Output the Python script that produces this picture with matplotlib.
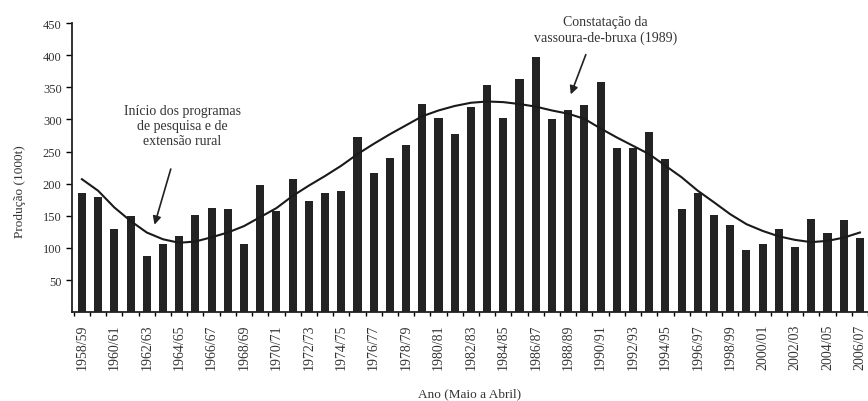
import numpy as np
import matplotlib
matplotlib.use("Agg")
import matplotlib.pyplot as plt

safras = ["1958/59", "1959/60", "1960/61", "1961/62", "1962/63", "1963/64", "1964/65",
          "1965/66", "1966/67", "1967/68", "1968/69", "1969/70", "1970/71", "1971/72",
          "1972/73", "1973/74", "1974/75", "1975/76", "1976/77", "1977/78", "1978/79",
          "1979/80", "1980/81", "1981/82", "1982/83", "1983/84", "1984/85", "1985/86",
          "1986/87", "1987/88", "1988/89", "1989/90", "1990/91", "1991/92", "1992/93",
          "1993/94", "1994/95", "1995/96", "1996/97", "1997/98", "1998/99", "1999/00",
          "2000/01", "2001/02", "2002/03", "2003/04", "2004/05", "2005/06", "2006/07"]

producao = [186, 180, 129, 149, 88, 106, 119, 151, 162, 161,
            106, 198, 157, 207, 173, 186, 189, 273, 216, 240,
            261, 324, 303, 277, 320, 354, 303, 363, 398, 301,
            315, 323, 358, 255, 256, 280, 239, 161, 186, 152,
            135, 97, 106, 130, 102, 145, 123, 144, 115]

# linha de tendencia
tendencia = [207, 189, 163, 142, 124, 113.5, 108, 110, 116.6, 124,
             134, 148, 162, 181, 197, 212, 228, 246, 262, 277,
             291, 305, 314, 321, 326, 328, 327, 324, 320, 314,
             309, 301, 286, 272, 259, 246, 228, 210, 189, 171,
             152.5, 137, 126.5, 118, 112.5, 109, 111, 116, 124]

plt.rcParams['font.family'] = ['Liberation Serif', 'DejaVu Serif']
txt = '#333333'

fig = plt.figure(figsize=(8.68, 4.02), dpi=100)
ax = fig.add_axes([0.083, 0.221, 0.917, 0.719])

x = np.arange(len(safras))
ax.bar(x, producao, width=0.5, color='#232323')
ax.plot(x, tendencia, color='#1a1a1a', linewidth=1.5)

ax.set_xlim(-0.61, 48.18)
ax.set_ylim(0, 450)

ax.set_yticks(range(50, 451, 50))
ax.set_xticks(x[::2])
ax.set_xticklabels(safras[::2], rotation=90, fontsize=10, color=txt)
ax.set_xticks(np.arange(-0.5, len(safras), 1), minor=True)
ax.tick_params(axis='x', which='major', length=0, pad=8)
ax.tick_params(axis='x', which='minor', length=3, width=1, direction='out')
ax.tick_params(axis='y', length=4, width=1, direction='out', labelsize=9, labelcolor=txt)

for s in ['top', 'right']:
    ax.spines[s].set_visible(False)
for s in ['left', 'bottom']:
    ax.spines[s].set_linewidth(1.3)
    ax.spines[s].set_color('#222222')

ax.set_ylabel('Produção (1000t)', fontsize=9.5, color=txt)
ax.yaxis.set_label_coords(-0.058, 0.42)
ax.set_xlabel('Ano (Maio a Abril)', fontsize=9.5, color=txt)
ax.xaxis.set_label_coords(0.5, -0.26)

# anotacoes
ax.text(6.2, 290, 'Início dos programas\nde pesquisa e de\nextensão rural',
        ha='center', va='center', fontsize=10, color=txt, linespacing=1.2)
ax.annotate('', xy=(4.43, 132), xytext=(5.53, 227),
            arrowprops=dict(arrowstyle='-|>', color='#222222', lw=1.2,
                            mutation_scale=12))

ax.text(32.3, 440, 'Constatação da\nvassoura-de-bruxa (1989)',
        ha='center', va='center', fontsize=10, color=txt, linespacing=1.2)
ax.annotate('', xy=(30.1, 335), xytext=(31.15, 405),
            arrowprops=dict(arrowstyle='-|>', color='#222222', lw=1.2,
                            mutation_scale=12))

fig.savefig('out.png', dpi=100)
